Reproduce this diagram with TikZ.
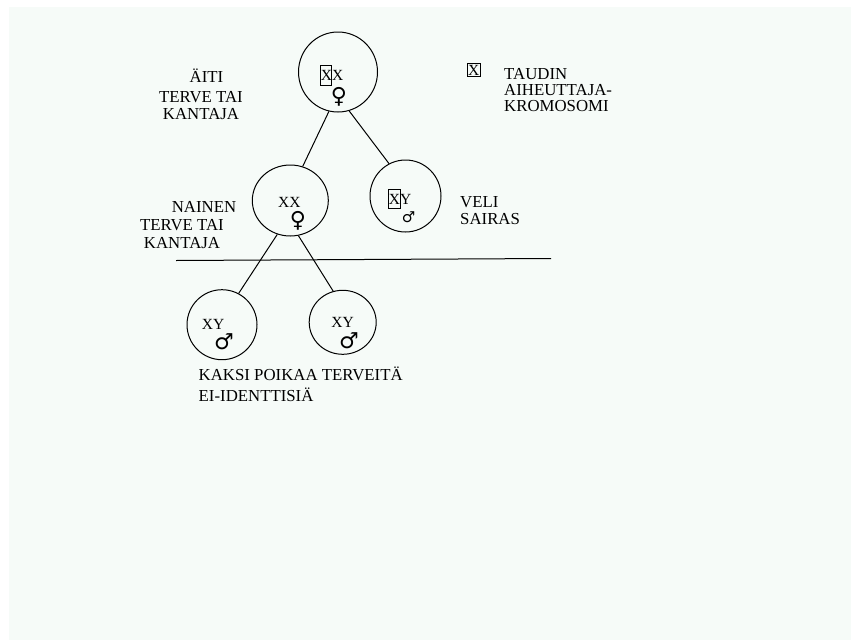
\documentclass[tikz,border=0pt]{standalone}
\usepackage{fontspec}
\setmainfont{Liberation Serif}
\newfontfamily\sexfont{DejaVu Sans}
\usetikzlibrary{shapes.geometric}
\definecolor{paper}{RGB}{246,251,248}
\tikzset{
  person/.style={draw, ellipse, inner sep=0pt, line width=1pt},
  chrom/.style={font=\fontsize{15.5}{15.5}\selectfont, inner sep=0pt},
  sexmark/.style={font=\sexfont\fontsize{22}{22}\selectfont, inner sep=0pt},
  sickbox/.style={draw, line width=0.9pt, inner sep=0pt},
  remark/.style={font=\fontsize{16.8}{17}\selectfont, inner sep=0pt},
  descent/.style={line width=1pt}
}
\begin{document}
\begin{tikzpicture}[x=1pt, y=-1pt]
  \useasboundingbox (0,0) rectangle (851,640);
  \fill[white] (0,0) rectangle (851,640);
  \fill[paper] (9,7) rectangle (851,640);
  % persons
  \node[person, minimum width=79pt, minimum height=80pt] (mom) at (338,72) {};
  \node[person, minimum width=76pt, minimum height=71pt] (nainen) at (290.3,200.5) {};
  \node[person, minimum width=71pt, minimum height=72pt] (veli) at (405.5,196) {};
  \node[person, minimum width=70pt, minimum height=70pt] (son1) at (222,324.7) {};
  \node[person, minimum width=67pt, minimum height=64pt] (son2) at (342.7,322.3) {};
  % chromosomes and sex marks
  \node[sickbox, minimum width=11pt, minimum height=20pt] (momsick) at (326.3,75) {};
  \node[chrom] (momchr) at (332,75.3) {XX};
  \node[sexmark] (momsex) at (339,97.3) {♀};
  \node[chrom] (nainenchr) at (289.3,202.5) {XX};
  \node[sexmark] (nainensex) at (298,221) {♀};
  \node[sickbox, minimum width=12.4pt, minimum height=19pt] (velisick) at (394.5,198.8) {};
  \node[chrom] (velichr) at (400,199) {XY};
  \node[sexmark, font=\sexfont\fontsize{15}{15}\selectfont] (velisex) at (408.5,217) {♂};
  \node[chrom] (son1chr) at (213,324.7) {XY};
  \node[sexmark] (son1sex) at (224,341.7) {♂};
  \node[chrom] (son2chr) at (342.5,322.5) {XY};
  \node[sexmark] (son2sex) at (349,340.5) {♂};
  % descent lines
  \draw[descent] (mom.-103) -- (nainen.70);
  \draw[descent] (mom.-74) -- (veli.117);
  \draw[descent] (nainen.-111) -- (son1.62);
  \draw[descent] (nainen.-77) -- (son2.107);
  % generation line
  \coordinate (genl) at (176,260.5);
  \coordinate (genr) at (551,258.5);
  \draw[descent] (genl) -- (genr);
  % texts
  \node[remark, align=center, font=\fontsize{16.8}{16.5}\selectfont] (aititxt) at (201,94) {\hspace*{11pt}ÄITI\\[4pt]TERVE TAI\\KANTAJA};
  \node[remark, align=center, font=\fontsize{16.8}{18}\selectfont] (nainentxt) at (182,225) {\hspace*{44pt}NAINEN\\TERVE TAI\\KANTAJA};
  \node[remark, align=left, anchor=west, font=\fontsize{16.8}{17}\selectfont] (velitxt) at (460,211) {VELI\\SAIRAS};
  \node[remark, align=left, anchor=west, font=\fontsize{16.8}{21}\selectfont] (poikatxt) at (198.5,384.6) {KAKSI POIKAA TERVEITÄ\\EI-IDENTTISIÄ};
  % legend
  \node[sickbox, chrom, minimum size=13pt] (legbox) at (473.7,70) {X};
  \node[remark, align=left, anchor=west, font=\fontsize{16.8}{15.6}\selectfont] (legtxt) at (504,90.1) {TAUDIN\\AIHEUTTAJA-\\KROMOSOMI};
\end{tikzpicture}
\end{document}
